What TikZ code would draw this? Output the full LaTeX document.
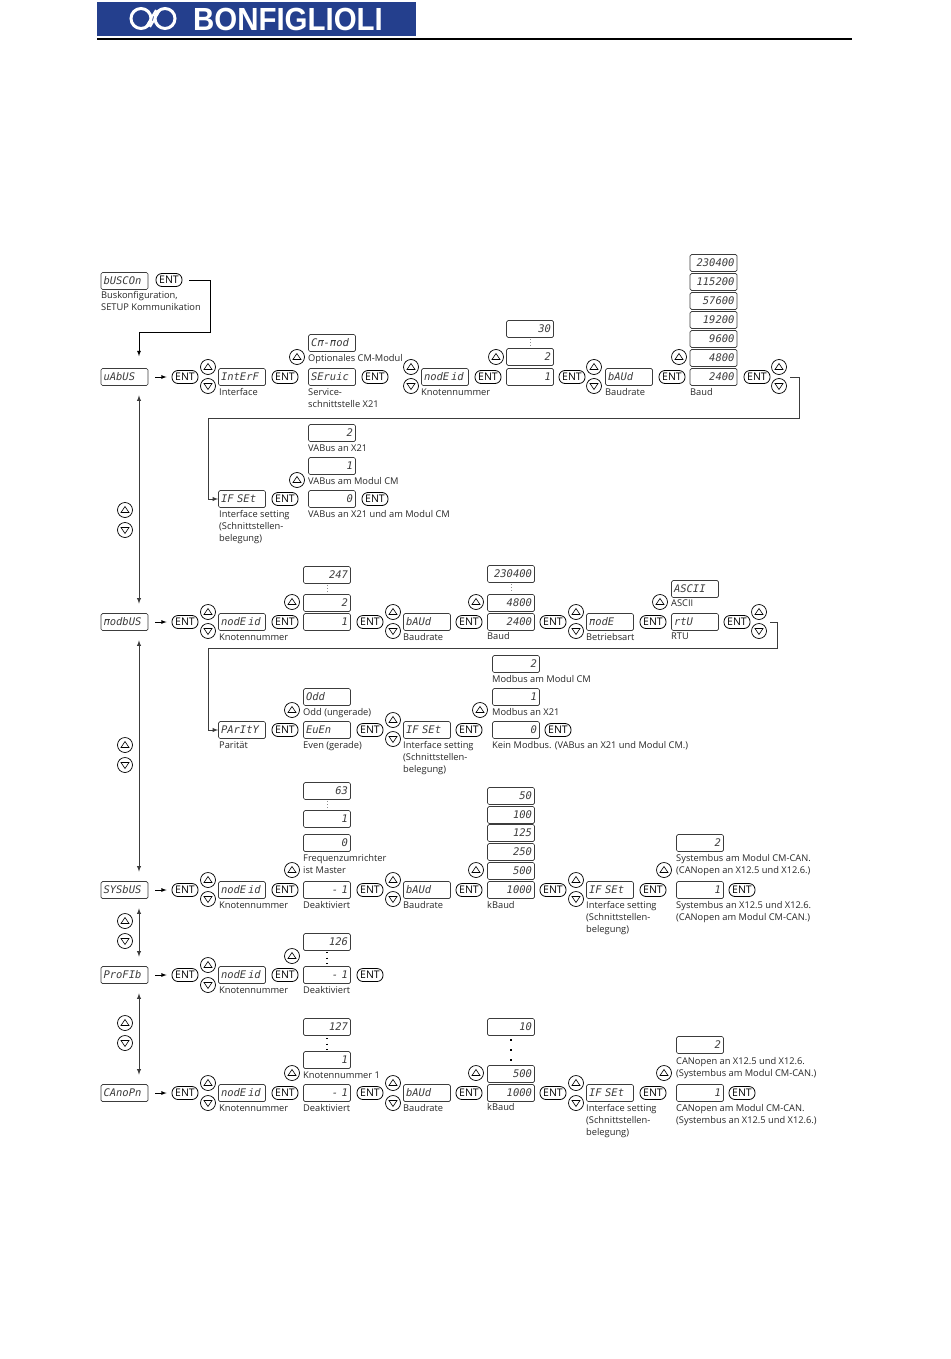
\documentclass[tikz,border=0pt]{standalone}
\usepackage{fontspec}
\usepackage{tikz}
\usetikzlibrary{calc}
\usetikzlibrary{positioning}
\usetikzlibrary{arrows}
\setmainfont{Open Sans}
\newfontfamily\segfont{DejaVu Sans Mono}
\newfontfamily\logofont{Liberation Sans}
\definecolor{myblue}{RGB}{36,63,141}
\definecolor{mygray}{RGB}{60,60,60}
\newcommand{\barn}{\rlap{\hspace{1.2pt}\raisebox{6.6pt}{\rule{5pt}{0.6pt}}}n}
\tikzset{
  mydisplay/.style={
    draw=mygray,
    shape=rectangle,
    rounded corners=1.5pt,
    line width=0.7pt,
    minimum width=47pt,
    minimum height=17pt,
    text width=42pt,
    inner sep=0pt,
    text=mygray,
    font=\segfont\itshape\fontsize{10.5}{10.5}\selectfont,
  },
  myword/.style={
    mydisplay,
    align=left,
  },
  mynumber/.style={
    mydisplay,
    align=right,
  },
  myent/.style={
    draw=black,
    shape=rectangle,
    rounded corners=6pt,
    line width=0.8pt,
    minimum width=26pt,
    minimum height=13pt,
    inner sep=0pt,
    font=\fontsize{10.5}{10.5}\selectfont,
  },
  mykey/.style={
    draw=black,
    shape=circle,
    line width=0.7pt,
    minimum size=15pt,
    inner sep=0pt,
  },
  myup/.style={
    mykey,
    path picture={
      \draw [line width=0.6pt] (path picture bounding box.center) ++(-4,2.5) -- ++(8,0) -- ++(-4,-6) -- cycle;
    },
  },
  mydown/.style={
    mykey,
    path picture={
      \draw [line width=0.6pt] (path picture bounding box.center) ++(-4,-2.5) -- ++(8,0) -- ++(-4,6) -- cycle;
    },
  },
  mylabel/.style={
    anchor=north west,
    align=left,
    inner sep=0pt,
    yshift=-1.5pt,
    text=black!85,
    font=\fontsize{9.3}{12}\selectfont,
  },
  mydots/.style={
    draw=black!45,
    line width=0.8pt,
    dash pattern=on 0.8pt off 2.4pt,
  },
  mybigdots/.style={
    draw=black,
    line width=1.3pt,
    dash pattern=on 1.3pt off 4.2pt,
  },
  myhugedots/.style={
    draw=black,
    line width=1.8pt,
    dash pattern=on 2pt off 8pt,
  },
  myline/.style={
    draw=mygray,
    line width=0.9pt,
  },
  myarrow/.style={
    draw=black,
    line width=0.8pt,
    -latex,
    shorten <=7pt,
    shorten >=5pt,
  },
  mybiarrow/.style={
    draw=mygray,
    line width=0.9pt,
    latex-latex,
    shorten <=9.5pt,
    shorten >=9.5pt,
  },
}

\begin{document}
\begin{tikzpicture}[x=1pt, y=-1pt]
    \useasboundingbox (0, 0) rectangle (950, 1359);

    \fill [myblue] (97, 2) rectangle (416, 36);
    \draw [white, line width=3pt] (141, 18.5) circle (10);
    \draw [white, line width=3pt] (165, 18.5) circle (10);
    \draw [white, line width=2pt] (146, 27) -- (156, 10);
    \draw [white, line width=2pt] (150, 27) -- (160, 10);
    \node [text=white, inner sep=0pt] (logo) at (288, 19) {\logofont\fontsize{32}{32}\selectfont\bfseries\scalebox{0.92}[1]{BONFIGLIOLI}};
    \draw [black, line width=2pt] (97, 39.5) -- (852, 39.5);

    \node [myword] (BC) at (124.5, 281) {bUSCOn};
    \node [myent] (BCent) at (169, 280) {ENT};
    \node [mylabel] (BClab) at (101, 290) {Buskonfiguration,\\SETUP Kommunikation};

    \node [myword] (VA) at (124.5, 377) {uAbUS};
    \node [myent] (VAent) at (185, 377) {ENT};
    \node [myup] (VAu) at (208, 367) {};
    \node [mydown] (VAd) at (208, 386) {};
    \node [myword] (VAif) at (242, 377) {IntErF};
    \node [mylabel] (VAiflab) at (219, 387) {Interface};
    \node [myent] (VAifent) at (285, 377) {ENT};
    \node [myup] (VAsu) at (297, 357) {};
    \node [myword] (VAcm) at (332, 343) {C\barn-\barn od};
    \node [mylabel] (VAcmlab) at (308, 353) {Optionales CM-Modul};
    \node [myword] (VAse) at (332, 377) {SEruic};
    \node [myent] (VAseent) at (375, 377) {ENT};
    \node [mylabel] (VAselab) at (308, 387) {Service-\\schnittstelle X21};
    \node [myup] (VAnu) at (411, 367) {};
    \node [mydown] (VAnd) at (411, 386) {};
    \node [myword] (VAid) at (445, 377) {nodE\,id};
    \node [mylabel] (VAidlab) at (421, 387) {Knotennummer};
    \node [myent] (VAident) at (488, 377) {ENT};
    \node [myup] (VAvu) at (496, 357) {};
    \node [mynumber] (VAn30) at (530, 329) {30};
    \draw [mydots] (530, 339) -- (530, 348);
    \node [mynumber] (VAn2) at (530, 357) {2};
    \node [mynumber] (VAn1) at (530, 377) {1};
    \node [myent] (VAvent) at (572, 377) {ENT};
    \node [myup] (VAbu) at (594, 367) {};
    \node [mydown] (VAbd) at (594, 386) {};
    \node [myword] (VAbd2) at (629, 377) {bAUd};
    \node [mylabel] (VAbdlab) at (605, 387) {Baudrate};
    \node [myent] (VAbent) at (672, 377) {ENT};
    \node [myup] (VAru) at (679, 357) {};
    \node [mynumber] (VAb230) at (713.5, 263) {230400};
    \node [mynumber] (VAb115) at (713.5, 282) {115200};
    \node [mynumber] (VAb57) at (713.5, 301) {57600};
    \node [mynumber] (VAb19) at (713.5, 320) {19200};
    \node [mynumber] (VAb96) at (713.5, 339) {9600};
    \node [mynumber] (VAb48) at (713.5, 358) {4800};
    \node [mynumber] (VAb24) at (713.5, 377) {2400};
    \node [mylabel] (VArlab) at (690, 387) {Baud};
    \node [myent] (VArent) at (757, 377) {ENT};
    \node [myup] (VAzu) at (779, 367) {};
    \node [mydown] (VAzd) at (779, 386) {};

    \node [myword] (VS) at (242, 499) {IF SEt};
    \node [mylabel] (VSlab) at (219, 509) {Interface setting\\(Schnittstellen-\\belegung)};
    \node [myent] (VSent) at (285, 499) {ENT};
    \node [myup] (VSu) at (297, 480) {};
    \node [mynumber] (VSn2) at (332, 433) {2};
    \node [mylabel] (VSn2lab) at (308, 443) {VABus an X21};
    \node [mynumber] (VSn1) at (332, 466) {1};
    \node [mylabel] (VSn1lab) at (308, 476) {VABus am Modul CM};
    \node [mynumber] (VSn0) at (332, 499) {0};
    \node [myent] (VSn0ent) at (375, 499) {ENT};
    \node [mylabel] (VSn0lab) at (308, 509) {VABus an X21 und am Modul CM};

    \node [myup] (VBu) at (125, 510) {};
    \node [mydown] (VBd) at (125, 530) {};

    \node [myword] (MB) at (124.5, 622) {\barn odbUS};
    \node [myent] (MBent) at (185, 622) {ENT};
    \node [myup] (MBu) at (208, 612) {};
    \node [mydown] (MBd) at (208, 631) {};
    \node [myword] (MBid) at (242, 622) {nodE\,id};
    \node [mylabel] (MBidlab) at (219, 632) {Knotennummer};
    \node [myent] (MBident) at (285, 622) {ENT};
    \node [myup] (MBvu) at (292, 602) {};
    \node [mynumber] (MBn247) at (327, 575) {247};
    \draw [mydots] (327, 585) -- (327, 594);
    \node [mynumber] (MBn2) at (327, 603) {2};
    \node [mynumber] (MBn1) at (327, 622) {1};
    \node [myent] (MBvent) at (370, 622) {ENT};
    \node [myup] (MBbu) at (393, 612) {};
    \node [mydown] (MBbd) at (393, 631) {};
    \node [myword] (MBbd2) at (427, 622) {bAUd};
    \node [mylabel] (MBbdlab) at (403, 632) {Baudrate};
    \node [myent] (MBbent) at (469, 622) {ENT};
    \node [myup] (MBru) at (476, 602) {};
    \node [mynumber] (MBb230) at (511, 574) {230400};
    \draw [mydots] (511, 584) -- (511, 593);
    \node [mynumber] (MBb48) at (511, 603) {4800};
    \node [mynumber] (MBb24) at (511, 622) {2400};
    \node [mylabel] (MBrlab) at (487, 631) {Baud};
    \node [myent] (MBrent) at (553, 622) {ENT};
    \node [myup] (MBmu) at (576, 612) {};
    \node [mydown] (MBmd) at (576, 631) {};
    \node [myword] (MBmo) at (610, 622) {\barn odE};
    \node [mylabel] (MBmolab) at (586, 632) {Betriebsart};
    \node [myent] (MBment) at (653, 622) {ENT};
    \node [myup] (MBau) at (660, 602) {};
    \node [myword] (MBasc) at (695, 589) {ASCII};
    \node [mylabel] (MBasclab) at (671, 598) {ASCII};
    \node [myword] (MBrtu) at (695, 622) {rtU};
    \node [mylabel] (MBrtulab) at (671, 631) {RTU};
    \node [myent] (MBrtuent) at (737, 622) {ENT};
    \node [myup] (MBzu) at (759, 612) {};
    \node [mydown] (MBzd) at (759, 631) {};

    \node [myword] (PA) at (242, 730) {PArItY};
    \node [mylabel] (PAlab) at (219, 740) {Parität};
    \node [myent] (PAent) at (285, 730) {ENT};
    \node [myup] (PAu) at (292, 710) {};
    \node [myword] (PAodd) at (327, 697) {Odd};
    \node [mylabel] (PAoddlab) at (303, 707) {Odd (ungerade)};
    \node [myword] (PAev) at (327, 730) {EuEn};
    \node [mylabel] (PAevlab) at (303, 740) {Even (gerade)};
    \node [myent] (PAevent) at (370, 730) {ENT};
    \node [myup] (PAiu) at (393, 720) {};
    \node [mydown] (PAid) at (393, 739) {};
    \node [myword] (PAif) at (427, 730) {IF SEt};
    \node [mylabel] (PAiflab) at (403, 740) {Interface setting\\(Schnittstellen-\\belegung)};
    \node [myent] (PAifent) at (469, 730) {ENT};
    \node [myup] (PAnu) at (480, 710) {};
    \node [mynumber] (PAn2) at (516, 664) {2};
    \node [mylabel] (PAn2lab) at (492, 674) {Modbus am Modul CM};
    \node [mynumber] (PAn1) at (516, 697) {1};
    \node [mylabel] (PAn1lab) at (492, 707) {Modbus an X21};
    \node [mynumber] (PAn0) at (516, 730) {0};
    \node [myent] (PAn0ent) at (558, 730) {ENT};
    \node [mylabel] (PAn0lab) at (492, 740) {Kein Modbus. (VABus an X21 und Modul CM.)};

    \node [myup] (MSu) at (125, 745) {};
    \node [mydown] (MSd) at (125, 765) {};

    \node [myword] (SY) at (124.5, 890) {SYSbUS};
    \node [myent] (SYent) at (185, 890) {ENT};
    \node [myup] (SYu) at (208, 880) {};
    \node [mydown] (SYd) at (208, 899) {};
    \node [myword] (SYid) at (242, 890) {nodE\,id};
    \node [mylabel] (SYidlab) at (219, 900) {Knotennummer};
    \node [myent] (SYident) at (285, 890) {ENT};
    \node [myup] (SYvu) at (292, 870) {};
    \node [mynumber] (SYn63) at (327, 791) {63};
    \draw [mydots] (327, 801) -- (327, 810);
    \node [mynumber] (SYn1) at (327, 819) {1};
    \node [mynumber] (SYn0) at (327, 843) {0};
    \node [mylabel] (SYn0lab) at (303, 853) {Frequenzumrichter\\ist Master};
    \node [mynumber] (SYnm) at (327, 890) {- 1};
    \node [mylabel] (SYnmlab) at (303, 900) {Deaktiviert};
    \node [myent] (SYvent) at (370, 890) {ENT};
    \node [myup] (SYbu) at (393, 880) {};
    \node [mydown] (SYbd) at (393, 899) {};
    \node [myword] (SYbd2) at (427, 890) {bAUd};
    \node [mylabel] (SYbdlab) at (403, 900) {Baudrate};
    \node [myent] (SYbent) at (469, 890) {ENT};
    \node [myup] (SYru) at (476, 870) {};
    \node [mynumber] (SYb50) at (511, 796) {50};
    \node [mynumber] (SYb100) at (511, 815) {100};
    \node [mynumber] (SYb125) at (511, 833) {125};
    \node [mynumber] (SYb250) at (511, 852) {250};
    \node [mynumber] (SYb500) at (511, 871) {500};
    \node [mynumber] (SYb1000) at (511, 890) {1000};
    \node [mylabel] (SYrlab) at (487, 900) {kBaud};
    \node [myent] (SYrent) at (553, 890) {ENT};
    \node [myup] (SYiu) at (576, 880) {};
    \node [mydown] (SYid2) at (576, 899) {};
    \node [myword] (SYif) at (610, 890) {IF SEt};
    \node [mylabel] (SYiflab) at (586, 900) {Interface setting\\(Schnittstellen-\\belegung)};
    \node [myent] (SYifent) at (653, 890) {ENT};
    \node [myup] (SYnu) at (664, 870) {};
    \node [mynumber] (SYs2) at (700, 843) {2};
    \node [mylabel] (SYs2lab) at (676, 853) {Systembus am Modul CM-CAN.\\(CANopen an X12.5 und X12.6.)};
    \node [mynumber] (SYs1) at (700, 890) {1};
    \node [myent] (SYs1ent) at (742, 890) {ENT};
    \node [mylabel] (SYs1lab) at (676, 900) {Systembus an X12.5 und X12.6.\\(CANopen am Modul CM-CAN.)};

    \node [myup] (SPu) at (125, 921) {};
    \node [mydown] (SPd) at (125, 941) {};

    \node [myword] (PF) at (124.5, 975) {ProFIb};
    \node [myent] (PFent) at (185, 975) {ENT};
    \node [myup] (PFu) at (208, 965) {};
    \node [mydown] (PFd) at (208, 985) {};
    \node [myword] (PFid) at (242, 975) {nodE\,id};
    \node [mylabel] (PFidlab) at (219, 985) {Knotennummer};
    \node [myent] (PFident) at (285, 975) {ENT};
    \node [myup] (PFvu) at (292, 956) {};
    \node [mynumber] (PFn126) at (327, 942) {126};
    \draw [mybigdots] (327, 952) -- (327, 965);
    \node [mynumber] (PFnm) at (327, 975) {- 1};
    \node [mylabel] (PFnmlab) at (303, 985) {Deaktiviert};
    \node [myent] (PFvent) at (370, 975) {ENT};

    \node [myup] (PCu) at (125, 1023) {};
    \node [mydown] (PCd) at (125, 1043) {};

    \node [myword] (CA) at (124.5, 1093) {CAnoPn};
    \node [myent] (CAent) at (185, 1093) {ENT};
    \node [myup] (CAu) at (208, 1083) {};
    \node [mydown] (CAd) at (208, 1103) {};
    \node [myword] (CAid) at (242, 1093) {nodE\,id};
    \node [mylabel] (CAidlab) at (219, 1103) {Knotennummer};
    \node [myent] (CAident) at (285, 1093) {ENT};
    \node [myup] (CAvu) at (292, 1073) {};
    \node [mynumber] (CAn127) at (327, 1027) {127};
    \draw [mybigdots] (327, 1038) -- (327, 1051);
    \node [mynumber] (CAn1) at (327, 1060) {1};
    \node [mylabel] (CAn1lab) at (303, 1070) {Knotennummer 1};
    \node [mynumber] (CAnm) at (327, 1093) {- 1};
    \node [mylabel] (CAnmlab) at (303, 1103) {Deaktiviert};
    \node [myent] (CAvent) at (370, 1093) {ENT};
    \node [myup] (CAbu) at (393, 1083) {};
    \node [mydown] (CAbd) at (393, 1103) {};
    \node [myword] (CAbd2) at (427, 1093) {bAUd};
    \node [mylabel] (CAbdlab) at (403, 1103) {Baudrate};
    \node [myent] (CAbent) at (469, 1093) {ENT};
    \node [myup] (CAru) at (476, 1073) {};
    \node [mynumber] (CAb10) at (511, 1027) {10};
    \draw [myhugedots] (511, 1039) -- (511, 1062);
    \node [mynumber] (CAb500) at (511, 1074) {500};
    \node [mynumber] (CAb1000) at (511, 1093) {1000};
    \node [mylabel] (CArlab) at (487, 1102) {kBaud};
    \node [myent] (CArent) at (553, 1093) {ENT};
    \node [myup] (CAiu) at (576, 1083) {};
    \node [mydown] (CAid2) at (576, 1103) {};
    \node [myword] (CAif) at (610, 1093) {IF SEt};
    \node [mylabel] (CAiflab) at (586, 1103) {Interface setting\\(Schnittstellen-\\belegung)};
    \node [myent] (CAifent) at (653, 1093) {ENT};
    \node [myup] (CAnu) at (664, 1073) {};
    \node [mynumber] (CAs2) at (700, 1045) {2};
    \node [mylabel] (CAs2lab) at (676, 1056) {CANopen an X12.5 und X12.6.\\(Systembus am Modul CM-CAN.)};
    \node [mynumber] (CAs1) at (700, 1093) {1};
    \node [myent] (CAs1ent) at (742, 1093) {ENT};
    \node [mylabel] (CAs1lab) at (676, 1103) {CANopen am Modul CM-CAN.\\(Systembus an X12.5 und X12.6.)};

    \coordinate (BCa) at (210, 280);
    \coordinate (BCb) at (210, 332);
    \coordinate (BCc) at (139, 332);
    \draw [myarrow, shorten >=12pt] (BCent) -- (BCa) -- (BCb) -- (BCc) -- ([xshift=14.5pt]VA.north);

    \draw [myarrow] (VA) -- (VAent);
    \draw [myarrow] (MB) -- (MBent);
    \draw [myarrow] (SY) -- (SYent);
    \draw [myarrow] (PF) -- (PFent);
    \draw [myarrow] (CA) -- (CAent);

    \draw [mybiarrow] ([xshift=14.5pt]VA.south) -- ([xshift=14.5pt]MB.north);
    \draw [mybiarrow] ([xshift=14.5pt]MB.south) -- ([xshift=14.5pt]SY.north);
    \draw [mybiarrow] ([xshift=14.5pt]SY.south) -- ([xshift=14.5pt]PF.north);
    \draw [mybiarrow] ([xshift=14.5pt]PF.south) -- ([xshift=14.5pt]CA.north);

    \coordinate (VAr0) at (790, 377);
    \coordinate (VAr1) at (799, 377);
    \coordinate (VAr2) at (799, 418);
    \coordinate (VAr3) at (208, 418);
    \draw [myline, -latex] (VAr0) -- (VAr1) -- (VAr2) -- (VAr3) |- (VS);

    \coordinate (MBr0) at (770, 622);
    \coordinate (MBr1) at (777, 622);
    \coordinate (MBr2) at (777, 648);
    \coordinate (MBr3) at (208, 648);
    \draw [myline, -latex] (MBr0) -- (MBr1) -- (MBr2) -- (MBr3) |- (PA);
  \end{tikzpicture}
\end{document}
